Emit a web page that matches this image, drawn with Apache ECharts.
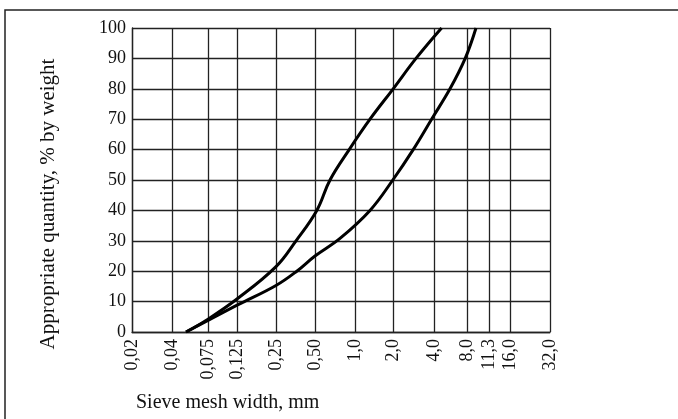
<!DOCTYPE html>
<html>
<head>
    <meta charset="UTF-8" />
    <script src="https://cdn.jsdelivr.net/npm/echarts@6/dist/echarts.min.js"></script>
    <style>
        html, body { margin: 0; padding: 0; background: #fff; }
        #chart { width: 678px; height: 419px; }
    </style>
</head>
<body>
    <div id="chart"></div>
    <script type="text/javascript">
        // sieve sizes (labels) and their plotted position along the x axis
        var sieveLabels = ['0,02', '0,04', '0,075', '0,125', '0,25', '0,50', '1,0', '2,0', '4,0', '8,0', '11,3', '16,0', '32,0'];
        var sievePos = [0, 1, 1.9, 2.64, 3.6, 4.575, 5.57, 6.54, 7.55, 8.39, 8.94, 9.45, 10.45];

        // grading curves: [position, % passing]
        var upperCurve = [[1.35, 0], [1.9, 4.2], [2.64, 11], [3.6, 21.5], [4.1, 30], [4.62, 40],
            [4.95, 50], [5.43, 60], [5.95, 70], [6.53, 80], [7.1, 90], [7.74, 100]];
        var lowerCurve = [[1.35, 0], [1.9, 3.8], [2.64, 8.9], [3.6, 15.3], [4.12, 20], [4.575, 25],
            [5.2, 30.8], [5.95, 40], [6.52, 50], [7.03, 60], [7.49, 70],
            [7.95, 80], [8.33, 90], [8.6, 100]];

        var chart = echarts.init(document.getElementById('chart'));
        var serif = 'Liberation Serif';
        var gridLine = { color: '#222', width: 1.3 };

        var option = {
            animation: false,
            grid: { left: 132, right: 128, top: 28, bottom: 87 },
            graphic: [{
                type: 'rect',
                shape: { x: 5, y: 10, width: 700, height: 430 },
                style: { fill: 'none', stroke: '#222', lineWidth: 1.5 }
            }, {
                type: 'text',
                left: 136,
                top: 393,
                style: { text: 'Sieve mesh width, mm', font: '20px ' + serif, fill: '#111' }
            }, {
                type: 'text',
                x: 48,
                y: 204,
                rotation: Math.PI / 2,
                style: {
                    text: 'Appropriate quantity, % by weight',
                    font: '21px ' + serif,
                    fill: '#111',
                    align: 'center',
                    verticalAlign: 'middle'
                }
            }],
            xAxis: {
                type: 'value',
                min: 0,
                max: 10.45,
                axisLine: { lineStyle: gridLine },
                axisTick: { show: false, customValues: sievePos },
                splitLine: { show: true, lineStyle: gridLine },
                axisLabel: {
                    customValues: sievePos,
                    rotate: 90,
                    margin: 7,
                    fontFamily: serif,
                    fontSize: 18,
                    color: '#111',
                    formatter: function (v) {
                        for (var i = 0; i < sievePos.length; i++) {
                            if (Math.abs(sievePos[i] - v) < 1e-6) return sieveLabels[i];
                        }
                        return '';
                    }
                }
            },
            yAxis: {
                type: 'value',
                min: 0,
                max: 100,
                interval: 10,
                axisLine: { show: true, lineStyle: gridLine },
                axisTick: { show: false },
                splitLine: { show: true, lineStyle: gridLine },
                axisLabel: { margin: 6, fontFamily: serif, fontSize: 18, color: '#111' }
            },
            series: [{
                type: 'line',
                data: upperCurve,
                smooth: 0.4,
                symbol: 'none',
                lineStyle: { color: '#000', width: 3 }
            }, {
                type: 'line',
                data: lowerCurve,
                smooth: 0.4,
                symbol: 'none',
                lineStyle: { color: '#000', width: 3 }
            }]
        };

        chart.setOption(option);
    </script>
</body>
</html>
